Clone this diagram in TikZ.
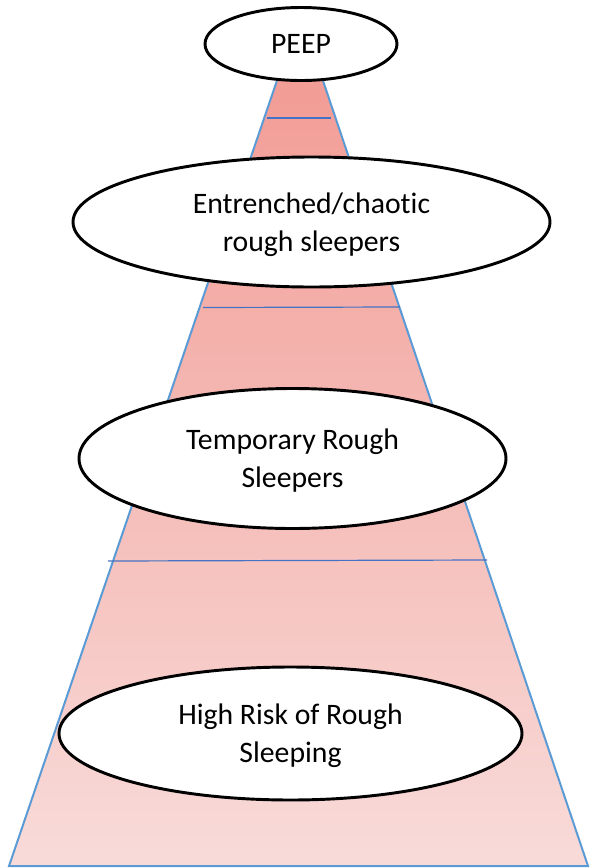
\documentclass[tikz,border=0pt]{standalone}
\usepackage{fontspec}
\setmainfont{Carlito}[Ligatures=NoCommon]
\usetikzlibrary{shapes.geometric}
\definecolor{tiertop}{HTML}{F29B94}
\definecolor{tierbottom}{HTML}{F8DBD9}
\definecolor{edgeblue}{HTML}{5B9BD5}
\definecolor{bandblue}{HTML}{4472C4}
\tikzset{
  tier/.style    = {ellipse, draw=black, line width=2.2pt, fill=white,
                    inner sep=0pt, align=center, text depth=0pt,
                    font=\fontsize{22.3}{28.5}\selectfont},
  pyramid/.style = {draw=edgeblue, line width=1.5pt,
                    top color=tiertop, bottom color=tierbottom},
  band/.style    = {draw=bandblue, line width=0.9pt},
}

\begin{document}
\begin{tikzpicture}[x=0.75pt, y=-0.75pt]
  \useasboundingbox (0,0) rectangle (590,868);

  % pyramid body
  \coordinate (topleft) at (284,60);
  \coordinate (topright) at (316,60);
  \coordinate (botright) at (588,866);
  \coordinate (botleft) at (9,866);
  \path[pyramid] (topleft) -- (topright) -- (botright) -- (botleft) -- cycle;

  % band lines
  \coordinate (band1l) at (267,118);
  \coordinate (band1r) at (331,118);
  \coordinate (band2l) at (203,307.5);
  \coordinate (band2r) at (400,307);
  \coordinate (band3l) at (108,561);
  \coordinate (band3r) at (487,560);
  \draw[band] (band1l) -- (band1r);
  \draw[band] (band2l) -- (band2r);
  \draw[band] (band3l) -- (band3r);

  % tiers
  \node[tier, minimum width=192*0.75pt, minimum height=73*0.75pt] (peep) at (301,44) {PEEP};
  \node[tier, minimum width=477*0.75pt, minimum height=130*0.75pt] (entrenched) at (311.5,222)
       {Entrenched/chaotic\\rough sleepers};
  \node[tier, minimum width=427*0.75pt, minimum height=140*0.75pt] (temporary) at (292.5,458.5)
       {Temporary Rough\\Sleepers};
  \node[tier, minimum width=463*0.75pt, minimum height=133*0.75pt] (highrisk) at (290.5,733.5)
       {High Risk of Rough\\Sleeping};

\end{tikzpicture}
\end{document}
